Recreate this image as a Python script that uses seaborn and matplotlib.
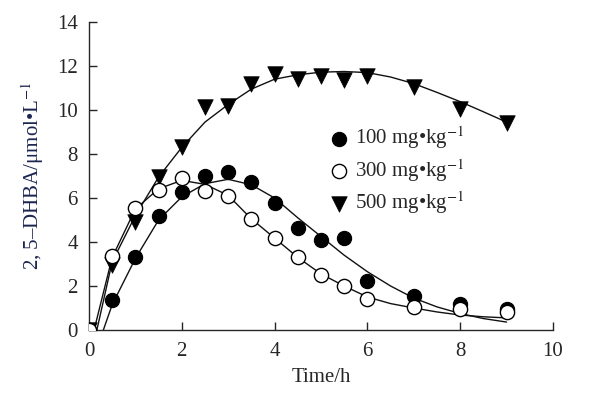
import pandas as pd
import matplotlib
matplotlib.use("Agg")
import matplotlib.pyplot as plt
import seaborn as sns

# measured points
time_pts = [0, 0.5, 1, 1.5, 2, 2.5, 3, 3.5, 4, 4.5, 5, 5.5, 6, 7, 8, 9]
dose100 = [0, 1.35, 3.3, 5.2, 6.27, 7.0, 7.18, 6.73, 5.77, 4.64, 4.09, 4.2, 2.23, 1.55, 1.2, 0.95]
dose300 = [0, 3.36, 5.55, 6.36, 6.9, 6.32, 6.09, 5.05, 4.18, 3.32, 2.5, 2.0, 1.41, 1.05, 0.95, 0.82]
dose500 = [0, 2.95, 4.9, 6.95, 8.3, 10.15, 10.2, 11.2, 11.65, 11.4, 11.55, 11.35, 11.55, 11.05, 10.05, 9.4]

# fitted curves
fit100_t = [0.31, 0.5, 1, 1.5, 2, 2.5, 3, 3.5, 4, 4.5, 5, 5.5, 6, 6.5, 7, 7.5, 8, 8.5, 9]
fit100_y = [0, 1.15, 3.25, 5.0, 6.05, 6.65, 6.85, 6.6, 6.0, 5.1, 4.25, 3.4, 2.65, 2.0, 1.45, 1.05, 0.75, 0.52, 0.36]
fit300_t = [0.11, 0.5, 1, 1.5, 2, 2.5, 3, 3.5, 4, 4.5, 5, 5.5, 6, 6.5, 7, 7.5, 8, 8.5, 9]
fit300_y = [0, 3.3, 5.5, 6.42, 6.8, 6.62, 6.12, 5.05, 4.18, 3.3, 2.55, 2.0, 1.5, 1.2, 1.0, 0.82, 0.68, 0.6, 0.55]
fit500_t = [0.17, 0.5, 1, 1.5, 2, 2.5, 3, 3.5, 4, 4.5, 5, 5.5, 6, 6.5, 7, 7.5, 8, 8.5, 9]
fit500_y = [0, 3.1, 5.2, 6.95, 8.3, 9.45, 10.25, 10.95, 11.4, 11.6, 11.72, 11.75, 11.7, 11.5, 11.2, 10.8, 10.38, 9.92, 9.45]

labels = ["100 mg•kg$^{-1}$", "300 mg•kg$^{-1}$", "500 mg•kg$^{-1}$"]

sns.set_style("ticks")
plt.rcParams["font.family"] = ["Liberation Serif", "DejaVu Serif"]
plt.rcParams["mathtext.fontset"] = "stix"
plt.rcParams["font.size"] = 15

fig = plt.figure(figsize=(5.94, 3.98), dpi=100)
ax = fig.add_axes([0.1498, 0.1709, 0.7811, 0.7738])

for t, y in [(fit100_t, fit100_y), (fit300_t, fit300_y), (fit500_t, fit500_y)]:
    sns.lineplot(x=t, y=y, ax=ax, color="#111111", lw=1.0, sort=False,
                 estimator=None, zorder=2)

pts = pd.DataFrame({"t": time_pts, "d100": dose100, "d300": dose300, "d500": dose500})
sns.scatterplot(data=pts, x="t", y="d100", ax=ax, marker="o", s=105,
                color="black", edgecolor="black", linewidth=0.8,
                label=labels[0], zorder=3)
sns.scatterplot(data=pts, x="t", y="d300", ax=ax, marker="o", s=105,
                facecolor="white", edgecolor="black", linewidth=1.0,
                label=labels[1], zorder=4)
sns.scatterplot(data=pts, x="t", y="d500", ax=ax, marker="v", s=125,
                color="black", edgecolor="black", linewidth=0.5,
                label=labels[2], zorder=3)

ax.set_xlim(0, 10)
ax.set_ylim(0, 14)
ax.set_xticks(range(0, 11, 2))
ax.set_yticks(range(0, 15, 2))
ax.tick_params(direction="in", length=6, width=1, labelsize=15)
ax.tick_params(axis="x", pad=9)
ax.tick_params(axis="y", pad=8)
sns.despine(ax=ax)
for sp in ax.spines.values():
    sp.set_linewidth(1.0)
ax.set_xlabel("Time/h", fontsize=15, labelpad=5)
ax.set_ylabel("2, 5–DHBA/μmol•L$^{-1}$", fontsize=15, color="#1c2550", labelpad=8)

leg = ax.legend(loc="upper left", bbox_to_anchor=(0.487, 0.695), frameon=False,
                fontsize=15, handletextpad=0.0, labelspacing=0.28,
                borderaxespad=0, handlelength=1.5)

fig.savefig("out.png", dpi=100)
